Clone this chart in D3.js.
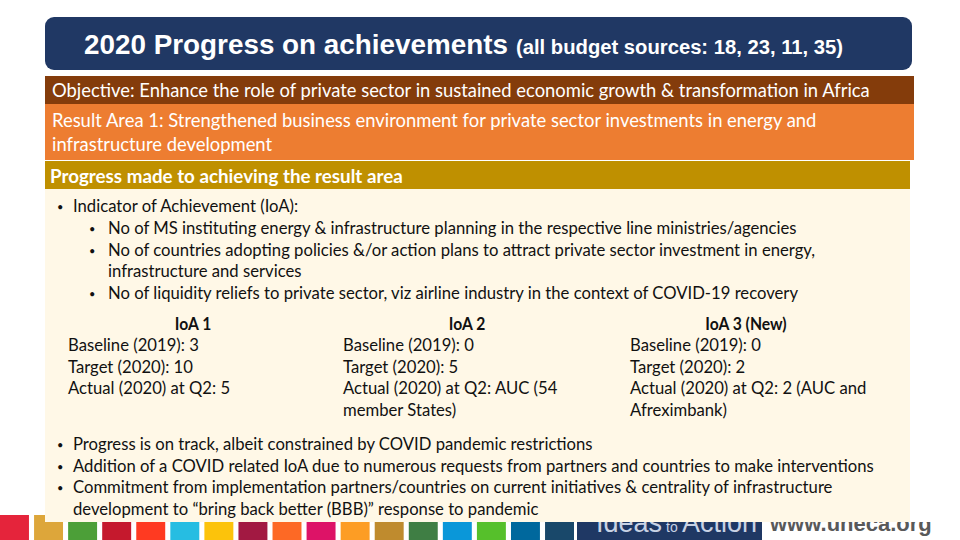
<!DOCTYPE html>
<html>
<head>
<meta charset="utf-8">
<script src="https://cdn.jsdelivr.net/npm/d3@7"></script>
<style>
  * { margin: 0; padding: 0; }
  body { background: #fff; }
  svg { display: block; }
</style>
</head>
<body>
<svg id="slide" width="960" height="540"></svg>
<script>
// ---- slide content ----
var titleMain = "2020 Progress on achievements";
var titleSub = "(all budget sources: 18, 23, 11, 35)";
var objective = "Objective: Enhance the role of private sector in sustained economic growth & transformation in Africa";
var resultArea = ["Result Area 1: Strengthened business environment for private sector investments in energy and",
                  "infrastructure development"];
var progressHeading = "Progress made to achieving the result area";
var indicatorIntro = "Indicator of Achievement (IoA):";
var indicators = [
  ["No of MS instituting energy & infrastructure planning in the respective line ministries/agencies"],
  ["No of countries adopting policies &/or action plans to attract private sector investment in energy,",
   "infrastructure and services"],
  ["No of liquidity reliefs to private sector, viz airline industry in the context of COVID-19 recovery"]
];
var ioaNames = ["IoA 1", "IoA 2", "IoA 3 (New)"];
var ioaBaseline = ["3", "0", "0"];
var ioaTarget = ["10", "5", "2"];
var ioaActual = [["5"], ["AUC (54", "member States)"], ["2 (AUC and", "Afreximbank)"]];
var findings = [
  ["Progress is on track, albeit constrained by COVID pandemic restrictions"],
  ["Addition of a COVID related IoA due to numerous requests from partners and countries to make interventions"],
  ["Commitment from implementation partners/countries on current initiatives & centrality of infrastructure",
   "development to \u201cbring back better (BBB)\u201d response to pandemic"]
];
var sdgColors = ["#e5243b", "#dda63a", "#4c9f38", "#c5192d", "#ff3a21", "#26bde2", "#fcc30b",
                 "#a21942", "#fd6925", "#dd1367", "#fd9d24", "#bf8b2e", "#3f7e44", "#0a97d9",
                 "#56c02b", "#00689d", "#19486a"];

var svg = d3.select("#slide");
var bodyFont = "Lato, 'Open Sans', sans-serif";
var headFont = "'Liberation Sans', Arial, sans-serif";

// stretch/squeeze a text element so Lato takes the room the original Calibri did
function fit(sel, k) {
  sel.each(function () {
    var w = this.getComputedTextLength();
    d3.select(this).attr("textLength", w * k).attr("lengthAdjust", "spacingAndGlyphs");
  });
}

// ---- footer strip (drawn first, panel covers its top) ----
var footer = svg.append("g");
var sq = d3.scaleBand().domain(d3.range(sdgColors.length)).range([0, 574]).paddingInner(0.15);
footer.selectAll("rect.sdg").data(sdgColors).enter().append("rect")
  .attr("class", "sdg")
  .attr("x", function (d, i) { return sq(i); })
  .attr("y", 515)
  .attr("width", sq.bandwidth())
  .attr("height", 25)
  .attr("fill", function (d) { return d; });

footer.append("rect").attr("x", 577).attr("y", 515).attr("width", 185).attr("height", 25).attr("fill", "#1f3864");
svg.append("clipPath").attr("id", "footClip").append("rect")
  .attr("x", 0).attr("y", 522).attr("width", 960).attr("height", 18);
var ftxt = footer.append("g").attr("clip-path", "url(#footClip)")
  .style("font-family", headFont);
ftxt.append("text").attr("x", 596).attr("y", 532)
  .style("font-size", "27px").attr("fill", "#c8d2e4").text("Ideas");
ftxt.append("text").attr("x", 666).attr("y", 532)
  .style("font-size", "14px").attr("fill", "#c8d2e4").text("to");
ftxt.append("text").attr("x", 682).attr("y", 532)
  .style("font-size", "27px").attr("fill", "#c8d2e4").text("Action");
ftxt.append("text").attr("x", 770).attr("y", 531)
  .style("font-size", "22px").style("font-weight", "bold")
  .attr("fill", "#595959").text("www.uneca.org");

// ---- title box ----
svg.append("rect").attr("x", 45).attr("y", 17).attr("width", 867).attr("height", 53).attr("rx", 9)
  .attr("fill", "#203864");
svg.append("text").attr("x", 84).attr("y", 54).attr("fill", "#fff")
  .style("font-family", headFont).style("font-weight", "bold").style("font-size", "28px")
  .text(titleMain).attr("textLength", 424).attr("lengthAdjust", "spacingAndGlyphs");
svg.append("text").attr("x", 516).attr("y", 54).attr("fill", "#fff")
  .style("font-family", headFont).style("font-weight", "bold").style("font-size", "20px")
  .text(titleSub).attr("textLength", 327).attr("lengthAdjust", "spacingAndGlyphs");

// ---- coloured header bands ----
var bands = [
  { y: 76, h: 28, w: 869, fill: "#843c0b" },
  { y: 104, h: 56, w: 869, fill: "#ed7d31" },
  { y: 161, h: 28, w: 865, fill: "#bf9000" }
];
svg.selectAll("rect.band").data(bands).enter().append("rect")
  .attr("class", "band")
  .attr("x", 45).attr("y", function (d) { return d.y; })
  .attr("width", function (d) { return d.w; }).attr("height", function (d) { return d.h; })
  .attr("fill", function (d) { return d.fill; });

svg.append("text").attr("x", 52).attr("y", 97).attr("fill", "#fff")
  .style("font-family", bodyFont).style("font-size", "19px").text(objective).call(fit, 0.968);
svg.selectAll("text.ra").data(resultArea).enter().append("text")
  .attr("class", "ra").attr("x", 52).attr("y", function (d, i) { return 127 + i * 24; })
  .attr("fill", "#fff").style("font-family", bodyFont).style("font-size", "18.5px")
  .text(function (d) { return d; }).call(fit, 0.995);
svg.append("text").attr("x", 50).attr("y", 183).attr("fill", "#fff")
  .style("font-family", bodyFont).style("font-size", "18.5px").style("font-weight", "bold")
  .text(progressHeading).call(fit, 1.015);

// ---- cream content panel ----
svg.append("rect").attr("x", 45).attr("y", 189).attr("width", 865).attr("height", 333).attr("fill", "#fff8e7");

var body = svg.append("g").style("font-family", bodyFont).style("font-size", "16.5px").attr("fill", "#111");
var lh = 21.5;
var k = 1.01;

function bullet(x, y) {
  body.append("text").attr("x", x).attr("y", y - 1).style("font-size", "11px").text("\u2022");
}

bullet(57, 212);
body.append("text").attr("x", 73).attr("y", 212).text(indicatorIntro).call(fit, k);

var yy = 234;
indicators.forEach(function (lines) {
  bullet(89, yy);
  lines.forEach(function (l) {
    body.append("text").attr("x", 108).attr("y", yy).text(l).call(fit, k);
    yy += lh;
  });
});

// IoA columns
var colX = d3.scaleOrdinal().domain(ioaNames).range([68, 343, 630]);
var headX = d3.scaleOrdinal().domain(ioaNames).range([193, 467, 746]);
ioaNames.forEach(function (name, i) {
  body.append("text").attr("x", headX(name)).attr("y", 330).attr("text-anchor", "middle")
    .style("font-weight", "bold").text(name).call(fit, 0.95);
  var lines = ["Baseline (2019): " + ioaBaseline[i], "Target (2020): " + ioaTarget[i]];
  ioaActual[i].forEach(function (a, j) {
    lines.push(j === 0 ? "Actual (2020) at Q2: " + a : a);
  });
  lines.forEach(function (l, j) {
    body.append("text").attr("x", colX(name)).attr("y", 351 + j * lh).text(l).call(fit, k);
  });
});

yy = 450;
findings.forEach(function (lines) {
  bullet(57, yy);
  lines.forEach(function (l) {
    body.append("text").attr("x", 73).attr("y", yy).text(l).call(fit, k);
    yy += lh;
  });
});
</script>
</body>
</html>
